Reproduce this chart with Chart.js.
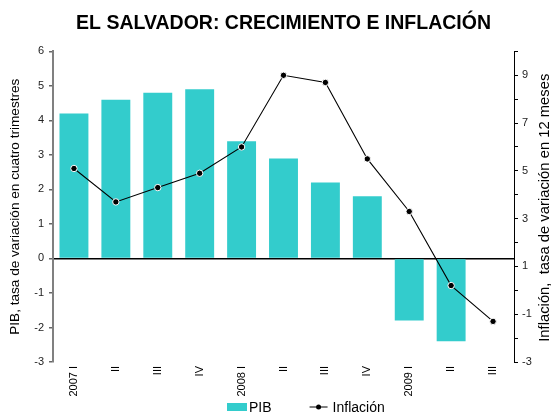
<!DOCTYPE html>
<html>
<head>
<meta charset="utf-8">
<script src="https://cdn.jsdelivr.net/npm/chart.js@4"></script>
<style>
html,body{margin:0;padding:0;background:#fff}
</style>
</head>
<body>
<canvas id="chart" width="558" height="417"></canvas>
<script>
const quarters = ["2007 I","II","III","IV","2008 I","II","III","IV","2009 I","II","III"];
const pib = [4.2,4.6,4.8,4.9,3.4,2.9,2.2,1.8,-1.8,-2.4,null];
const inflacion = [5.1,3.7,4.3,4.9,6.0,9.0,8.7,5.5,3.3,0.2,-1.3];
const pibRange = [-3,6];
const inflRange = [-3,10];

const FONT = '"Liberation Sans", Arial, sans-serif';
const TEAL = "#33CCCC";

// right axis title reads bottom-to-top like the left one
const rightTitle = {
    id:"rightTitle",
    afterDraw(chart){
        const ctx = chart.ctx, a = chart.chartArea, s = chart.scales.y1;
        ctx.save();
        ctx.translate(s.right - 13, (a.top + a.bottom)/2 + 1);
        ctx.rotate(-Math.PI/2);
        ctx.font = "14.8px " + FONT;
        ctx.fillStyle = "#000";
        ctx.textAlign = "center";
        ctx.textBaseline = "middle";
        ctx.fillText("Inflación,  tasa de variación en 12 meses", 0, 0);
        ctx.restore();
    }
};

// legend row under the x labels
const legendRow = {
    id:"legendRow",
    afterDraw(chart){
        const ctx = chart.ctx, a = chart.chartArea;
        const ds = chart.data.datasets;
        const y = chart.height - 10;
        let x = a.left + 174;
        ctx.save();
        ctx.font = "14px " + FONT;
        ctx.textBaseline = "middle";
        ctx.fillStyle = TEAL;
        ctx.fillRect(x, y - 4, 20, 8);
        ctx.fillStyle = "#000";
        ctx.fillText(ds[0].label, x + 22, y + 1);
        x += 22 + ctx.measureText(ds[0].label).width + 38;
        ctx.strokeStyle = "#000";
        ctx.lineWidth = 1;
        ctx.beginPath(); ctx.moveTo(x, y); ctx.lineTo(x + 18, y); ctx.stroke();
        ctx.beginPath(); ctx.arc(x + 9, y, 2.5, 0, Math.PI*2); ctx.fill();
        ctx.fillText(ds[1].label, x + 23, y + 1);
        ctx.restore();
    }
};

new Chart(document.getElementById("chart"), {
    type:"bar",
    data:{
        labels:quarters,
        datasets:[
            {
                label:"PIB",
                data:pib,
                backgroundColor:TEAL,
                yAxisID:"y",
                barPercentage:0.69,
                categoryPercentage:1,
                order:2
            },
            {
                type:"line",
                label:"Inflación",
                data:inflacion,
                yAxisID:"y1",
                borderColor:"#000",
                borderWidth:1.1,
                pointRadius:3.2,
                pointBackgroundColor:"#000",
                pointBorderColor:"#fff",
                pointBorderWidth:1,
                tension:0,
                order:1
            }
        ]
    },
    options:{
        responsive:false,
        animation:false,
        layout:{padding:{top:0,bottom:0,left:0,right:0}},
        plugins:{
            title:{
                display:true,
                fullSize:false,
                text:"EL SALVADOR: CRECIMIENTO E INFLACIÓN",
                color:"#000",
                font:{family:FONT,size:19.5,weight:"bold"},
                padding:{top:12,bottom:16}
            },
            legend:{display:false},
            tooltip:{enabled:false}
        },
        scales:{
            x:{
                afterFit(s){ s.height = 55; },
                grid:{display:false,drawTicks:false},
                border:{display:false},
                ticks:{
                    autoSkip:false,
                    maxRotation:90,
                    minRotation:90,
                    color:"#000",
                    padding:4,
                    font:{family:FONT,size:11}
                }
            },
            y:{
                position:"left",
                min:pibRange[0],
                max:pibRange[1],
                afterFit(s){ s.width = 53; },
                ticks:{stepSize:1,color:"#222",padding:5,font:{family:FONT,size:11}},
                border:{color:"#808080",width:2},
                grid:{
                    drawOnChartArea:true,
                    color:c=>c.tick && c.tick.value===0 ? "#000" : "rgba(0,0,0,0)",
                    lineWidth:1.5,
                    tickColor:"#666",
                    tickLength:4
                },
                title:{
                    display:true,
                    text:"PIB, tasa de variación en cuatro trimestres",
                    color:"#000",
                    font:{family:FONT,size:13.6},
                    padding:{top:7,bottom:2}
                }
            },
            y1:{
                position:"right",
                min:inflRange[0],
                max:inflRange[1],
                afterFit(s){ s.width = 44; },
                ticks:{
                    stepSize:1,
                    color:"#222",
                    padding:4,
                    font:{family:FONT,size:11},
                    callback:v=>Math.abs(v)%2===1 ? v : ""
                },
                border:{color:"#000",width:1},
                grid:{drawOnChartArea:false,tickColor:"#000",tickLength:4}
            }
        }
    },
    plugins:[rightTitle, legendRow]
});
</script>
</body>
</html>
